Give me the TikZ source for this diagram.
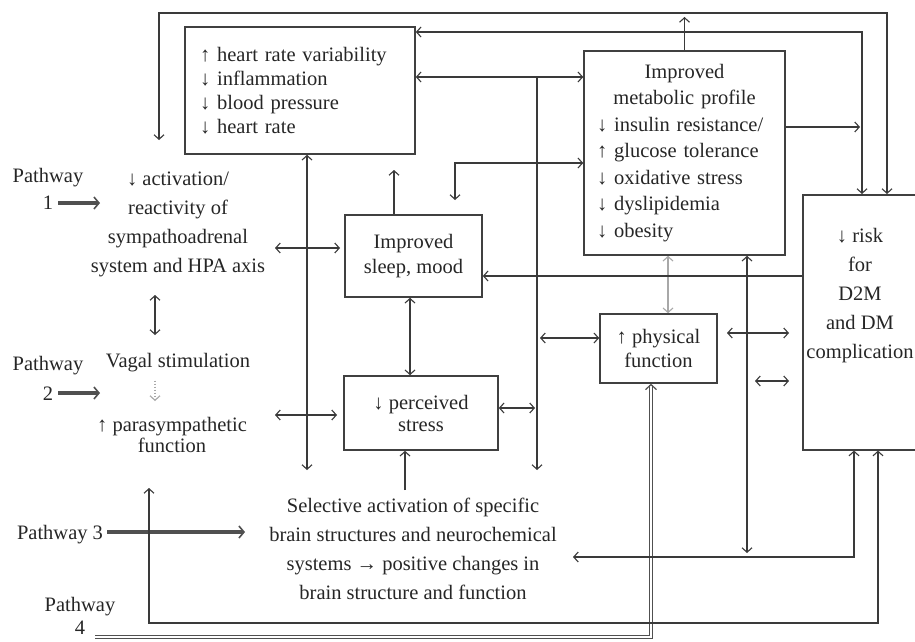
\documentclass[tikz,border=0pt]{standalone}
\usepackage{fontspec}
\setmainfont{Liberation Serif}
\usetikzlibrary{arrows.meta,calc}
\definecolor{lc}{HTML}{3A3A3A}
\definecolor{bc}{HTML}{404040}
\definecolor{tc}{HTML}{262626}
\definecolor{lightc}{HTML}{A8A8A8}
\definecolor{pwc}{HTML}{505050}
\begin{document}
\begin{tikzpicture}[x=1pt,y=-1pt,
  >={Straight Barb[length=4.5pt,width=10pt]},
  conn/.style={draw=lc, line width=1.1pt},
  bidir/.style={conn,<->},
  unidir/.style={conn,->},
  pwarr/.style={draw=pwc, line width=3.4pt, -{Straight Barb[length=5pt,width=12pt,line width=1.6pt]}},
  pwdouble/.style={draw=pwc, line width=0.9pt, double=white, double distance=2.2pt, -{Straight Barb[length=5pt,width=11pt,line width=1.2pt]}},
  boxst/.style={draw=bc, line width=1.6pt, rectangle, inner sep=0pt, align=center, text=tc, font=\fontsize{20.5}{24}\selectfont},
  txtst/.style={inner sep=0pt, align=center, text=tc, font=\fontsize{20.5}{24}\selectfont}]
\fill[white] (0,0) rectangle (915,642);
\useasboundingbox (0,0) rectangle (915,642);

% boxes
\node[boxst, text width=200pt, align=left, minimum width=230pt, minimum height=127pt] (hrv) at (300,90.5)
  {↑ heart rate variability\\↓ inflammation\\↓ blood pressure\\↓ heart rate};
\node[boxst, text width=175pt, align=left, minimum width=201pt, minimum height=204pt, font=\fontsize{20.5}{26.5}\selectfont] (meta) at (684.5,153)
  {\centering Improved\\metabolic profile\par\raggedright ↓ insulin resistance/\\↑ glucose tolerance\\↓ oxidative stress\\↓ dyslipidemia\\↓ obesity};
\node[boxst, minimum width=137pt, minimum height=82pt, font=\fontsize{20.5}{25}\selectfont] (sleep) at (413.5,256) {Improved\\sleep, mood};
\node[boxst, minimum width=154pt, minimum height=74pt, font=\fontsize{20.5}{22}\selectfont] (stress) at (421,413) {↓ perceived\\stress};
\node[boxst, minimum width=117pt, minimum height=69pt, font=\fontsize{20.5}{24}\selectfont] (phys) at (658.5,348.5) {↑ physical\\function};
\node[boxst, minimum width=130pt, minimum height=255pt, anchor=north west] (risk) at (802,194) {};
\node[txtst, font=\fontsize{20.5}{29}\selectfont] (risktxt) at (860,296) {↓ risk\\for\\D2M\\and DM\\complication};

% free texts
\node[txtst, font=\fontsize{20.5}{29}\selectfont] (act) at (178,224) {↓ activation/\\reactivity of\\sympathoadrenal\\system and HPA axis};
\node[txtst] (vagal) at (178,363) {Vagal stimulation};
\node[txtst, font=\fontsize{20.5}{21}\selectfont] (para) at (172,435) {↑ parasympathetic\\function};
\node[txtst, font=\fontsize{20.5}{27}\selectfont] (pw1) at (48,189) {Pathway\\1};
\node[txtst, font=\fontsize{20.5}{30}\selectfont] (pw2) at (48,378) {Pathway\\2};
\node[txtst] (pw3) at (60,535) {Pathway 3};
\node[txtst, font=\fontsize{20.5}{23}\selectfont] (pw4) at (80,616) {Pathway\\4};
\node[txtst, font=\fontsize{20.5}{29}\selectfont] (sel) at (413,549)
  {Selective activation of specific\\brain structures and neurochemical\\systems → positive changes in\\brain structure and function};

% free connector ends
\coordinate (c1a) at (159,140);
\coordinate (c3b) at (537,470);
\coordinate (c4) at (455,200);
\coordinate (c6) at (307,470);
\coordinate (c7a) at (275,248);
\coordinate (c7b) at (340,248);
\coordinate (c8a) at (275,415);
\coordinate (c8b) at (337,415);
\coordinate (c15a) at (727,333);
\coordinate (c15b) at (789,333);
\coordinate (c16a) at (755,381);
\coordinate (c16b) at (789,381);
\coordinate (c17) at (573,557);
\coordinate (c18) at (149,488);
\coordinate (c0a) at (155,295);
\coordinate (c0b) at (155,335);
\coordinate (vd) at (155,401);
\coordinate (p1a) at (58,203);
\coordinate (p1b) at (100,203);
\coordinate (p2a) at (58,393);
\coordinate (p2b) at (100,393);
\coordinate (p3a) at (107,532);
\coordinate (p3b) at (245,532);
\coordinate (p4a) at (95,637);

% pathway arrows
\draw[pwarr] (p1a) -- (p1b);
\draw[pwarr] (p2a) -- (p2b);
\draw[pwarr] (p3a) -- (p3b);
\draw[pwdouble] (p4a) -| (phys.south -| 651,0);

% connectors
\draw[bidir] (c1a) |- (887,13) -- (887,0 |- risk.north);
\draw[unidir] (meta.north) -- (684.5,17);
\draw[bidir] (hrv.east |- 0,32) -| (862,0 |- risk.north);
\draw[bidir] (hrv.east |- 0,77) -- (meta.west |- 0,77);
\draw[unidir] (537,77) -- (c3b);
\draw[unidir] (meta.east |- 0,127) -- (860,127);
\draw[bidir] (c4) |- (meta.west |- 0,163);
\draw[unidir] (sleep.north -| 394,0) -- (394,170);
\draw[bidir] (307,0 |- hrv.south) -- (c6);
\draw[bidir] (c7a) -- (c7b);
\draw[bidir] (c8a) -- (c8b);
\draw[bidir] (sleep.south -| 410,0) -- (stress.north -| 410,0);
\draw[bidir] (stress.east |- 0,408) -- (535,408);
\draw[bidir] (540,338) -- (phys.west |- 0,338);
\draw[bidir, draw=lightc] (meta.south -| 668,0) -- (phys.north -| 668,0);
\draw[bidir] (meta.south -| 747,0) -- (747,553);
\draw[unidir] (risk.west |- 0,276) -- (sleep.east |- 0,276);
\draw[bidir] (c15a) -- (c15b);
\draw[bidir] (c16a) -- (c16b);
\draw[bidir] (risk.south -| 854,0) |- (c17);
\draw[bidir] (c18) |- (878,623) -- (risk.south -| 878,0);
\draw[unidir] (405,490) -- (stress.south -| 405,0);
\draw[bidir] (c0a) -- (c0b);
\draw[unidir, draw=lightc, dash pattern=on 1.5pt off 1.5pt] (vagal.south -| 155,0) ++(0,8) -- (vd);
\end{tikzpicture}
\end{document}
